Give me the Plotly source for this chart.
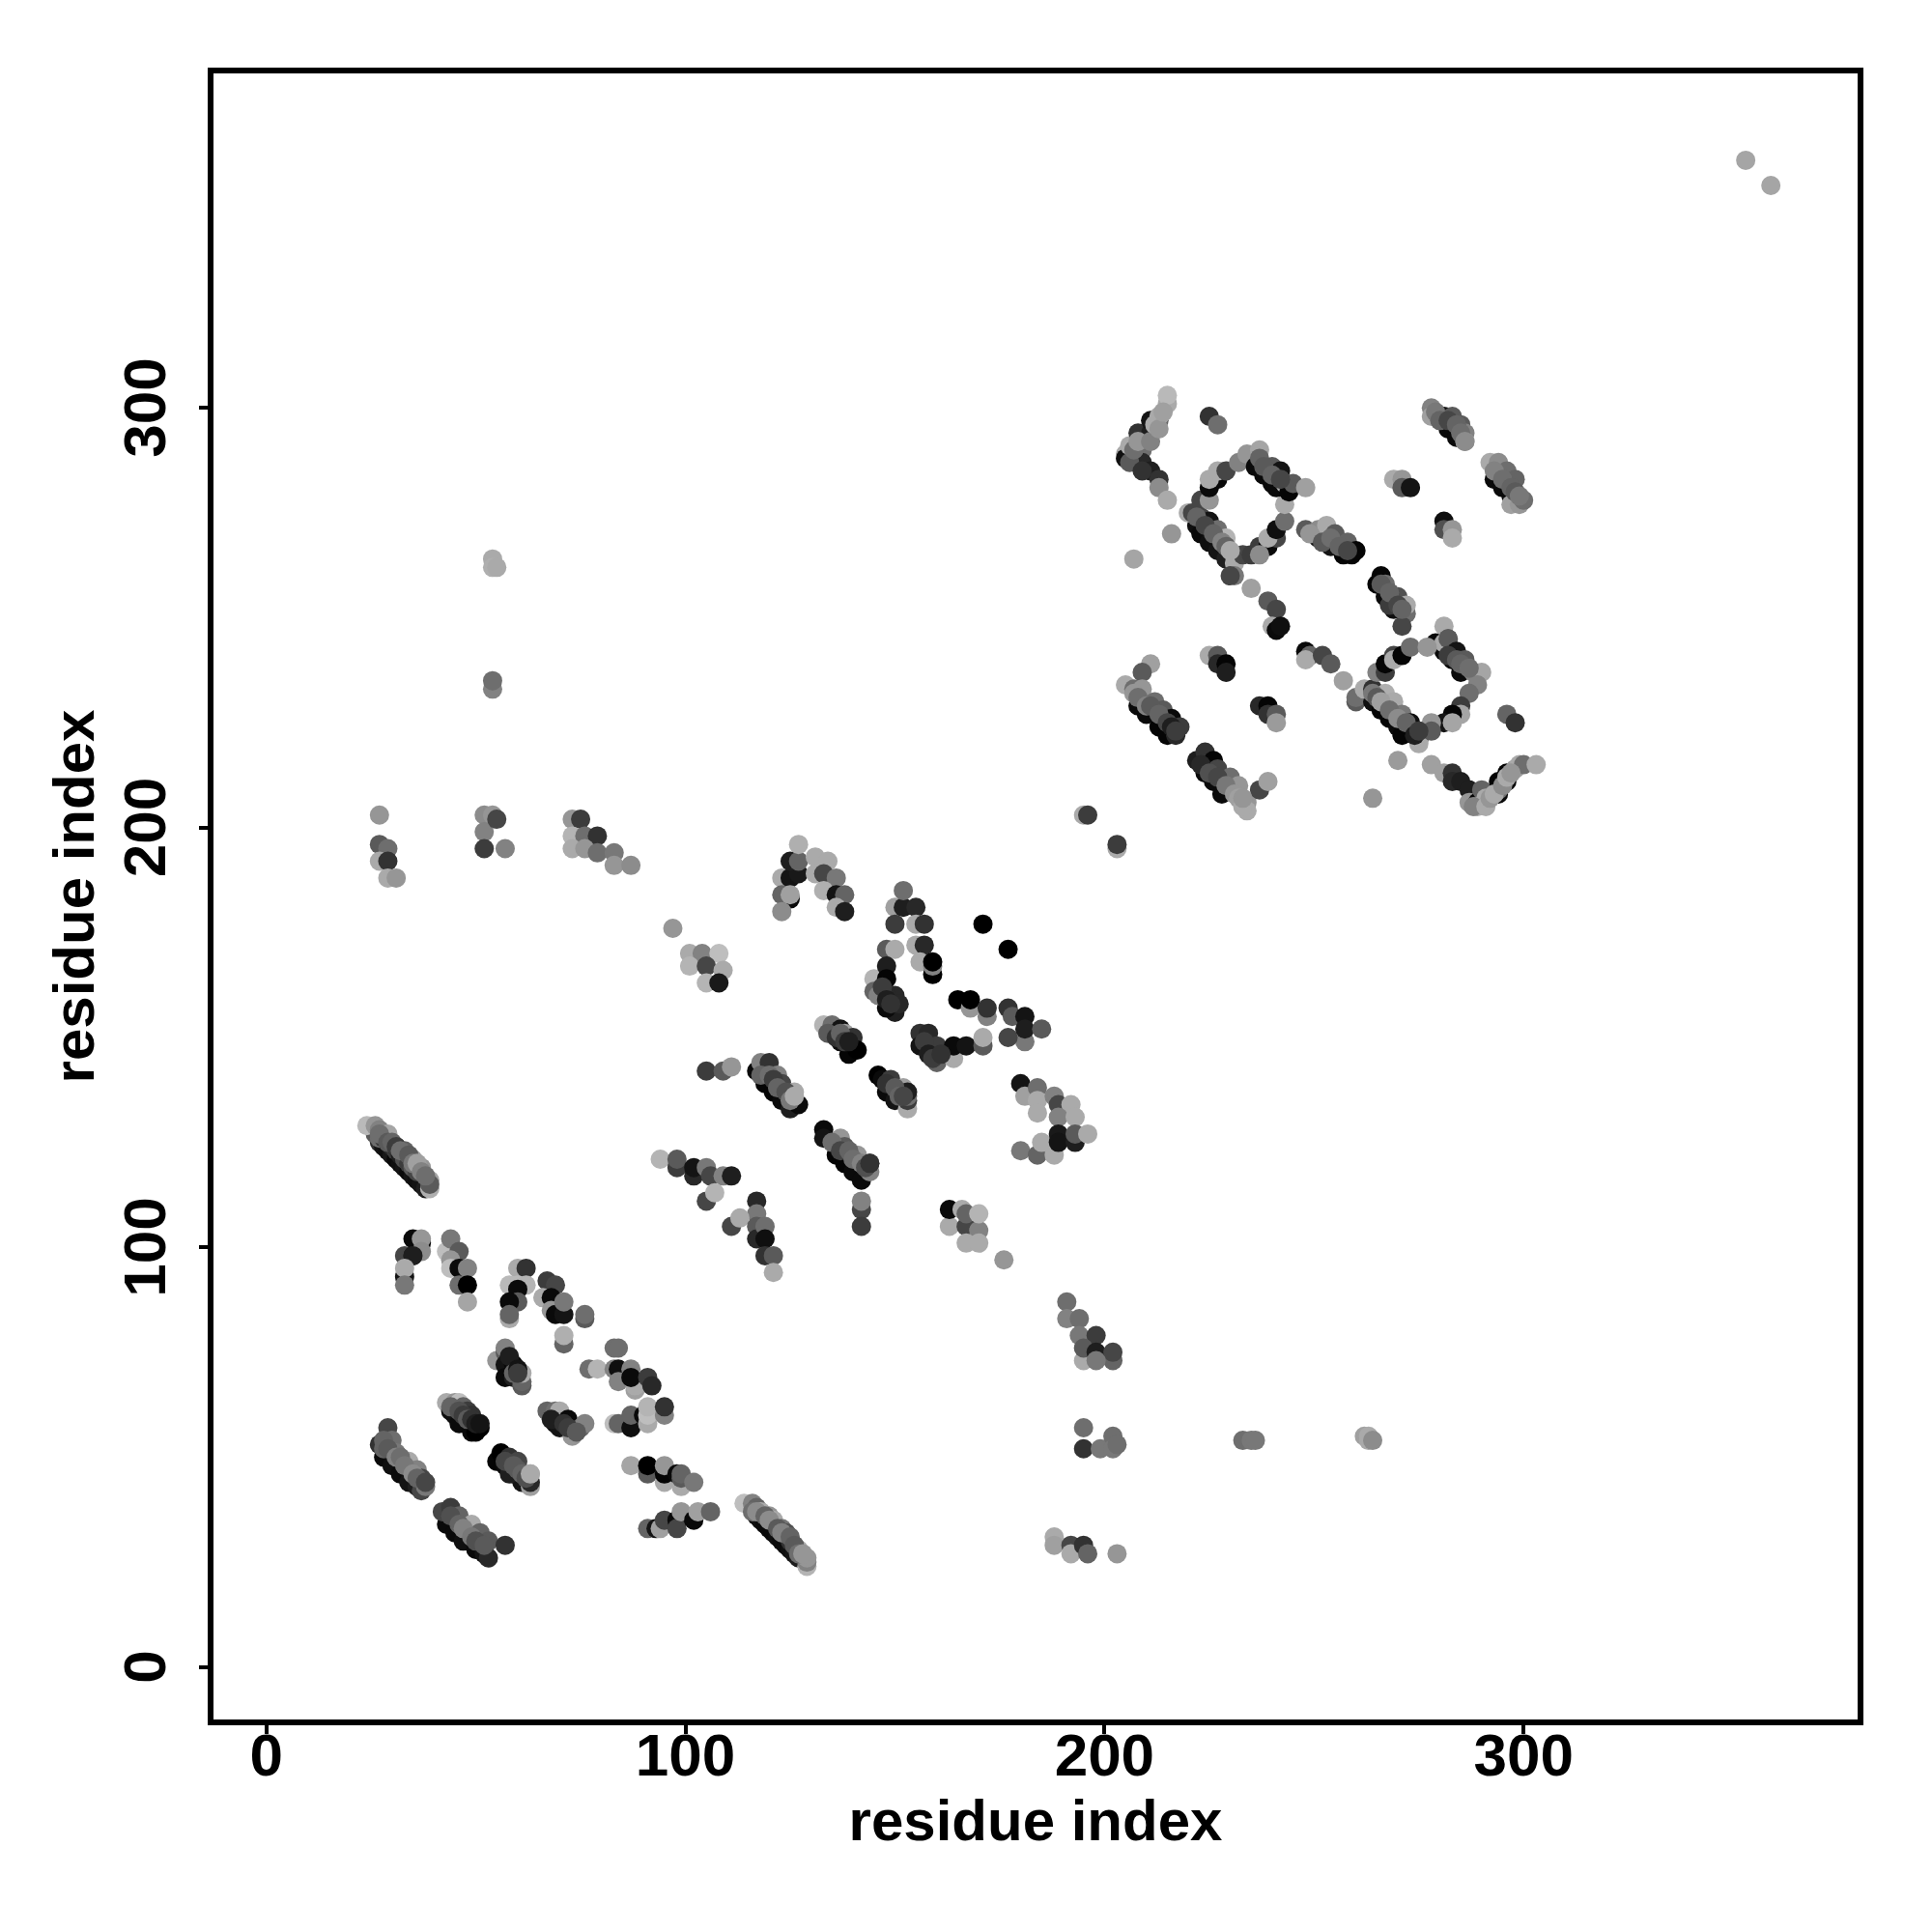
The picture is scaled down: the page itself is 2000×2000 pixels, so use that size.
import plotly.graph_objects as go

tick_values = [0, 100, 200, 300]
axis_label = "residue index"

c01_x = [27,28,29,30,31,32,33,34,35,36,37,38,26,27,28,29,30,31,32,33,34,35,36,24,26,27,29,31,33,35,37,39,39,39]
c01_y = [125,124,123,122,121,120,119,118,117,116,115,114,127,126,126,125,124,123,122,121,120,119,118,129,129,128,127,124,123,121,119,114,116,115]
c01_s = [50,20,15,25,10,15,20,10,20,15,20,30,90,110,60,70,40,60,30,80,60,90,70,185,150,130,165,20,100,160,150,175,165,90]
c02_x = [35,33,35,37,37,37,33,35,33,33]
c02_y = [102,98,98,101,102,99,93,98,95,91]
c02_s = [10,70,30,10,150,140,20,30,170,120]
c03_x = [43,44,46,44,44,46,48,46,48,48]
c03_y = [99,102,99,97,95,95,95,91,91,87]
c03_s = [190,120,90,150,190,10,130,110,0,165]
c04_x = [60,62,58,60,62,60,60,58,58,58]
c04_y = [95,95,91,91,91,90,87,87,83,84]
c04_s = [170,50,185,185,180,10,90,10,170,100]
c05_x = [67,69,66,68,68,69,71,71,76,76,71,71]
c05_y = [92,91,88,88,85,84,84,87,83,84,77,79]
c05_s = [60,70,170,10,150,10,20,120,90,110,100,175]
c06_x = [55,57,57,57,59,59,61,61,61,57]
c06_y = [73,75,72,69,72,69,67,68,70,76]
c06_s = [150,90,20,10,10,30,90,100,170,130]
c07_x = [83,84,77,79,83,84,87,84,88,88,87,91,92]
c07_y = [76,76,71,71,71,71,71,68,66,67,69,69,67]
c07_s = [110,110,110,180,130,15,130,130,160,170,10,60,40]
c08_x = [83,84,87,87,90,91,91,91,95,95]
c08_y = [58,58,57,60,60,58,60,62,60,62]
c08_s = [190,100,15,100,10,170,190,180,130,50]
c09_x = [43,45,46,44,47,45,48,49,46,49,50,51]
c09_y = [63,63,63,61,62,60,61,60,58,56,56,57]
c09_s = [170,150,190,15,100,15,60,50,10,10,0,0]
c10_x = [67,69,70,69,70,72,73,73,75,76]
c10_y = [61,61,61,58,57,59,55,57,57,58]
c10_s = [100,110,170,15,20,10,150,10,100,130]
c11_x = [28,30,32,34,36,29,27,30,28,31,34,37,38,36,37]
c11_y = [50,48,46,44,43,57,53,54,52,51,49,42,43,47,45]
c11_s = [10,15,10,20,30,70,50,110,100,120,170,70,120,130,70]
c12_x = [55,56,57,59,61,58,60,58,60,63,63,63]
c12_y = [49,51,48,46,44,50,49,46,47,43,44,46]
c12_s = [5,0,10,15,20,50,70,30,90,160,40,170]
c13_x = [43,45,47,50,42,44,46,49,51,53,57,52,53]
c13_y = [34,32,30,28,37,38,36,34,32,30,29,27,26]
c13_s = [10,10,15,10,70,60,100,170,100,90,50,20,40]
c14_x = [87,91,91,95,95,95,98,99,99,99,102]
c14_y = [48,46,48,44,46,48,46,43,45,46,44]
c14_s = [165,90,0,170,5,150,10,170,90,100,120]
c15_x = [91,93,94,95,98,98,99,102,103,106]
c15_y = [33,33,33,35,35,33,37,35,37,37]
c15_s = [100,20,160,70,10,70,150,10,160,100]
c16_x = [117,118,119,120,121,122,123,124,125,126,127,114,116,117,118,120,121,123,124,125,127,129,129,129]
c16_y = [36,35,34,33,32,31,30,29,28,27,26,39,39,38,37,36,35,33,32,30,28,24,25,26]
c16_s = [10,15,10,10,10,15,10,10,15,20,30,190,130,100,170,150,170,120,80,50,170,180,130,150]
c17_x = [73,75,73,76,79,73,76,79,83,83,87]
c17_y = [202,202,198,198,198,195,195,194,194,191,191]
c17_s = [150,60,180,110,50,170,150,110,120,150,140]
c18_x = [125,123,125,127,125,127,123,123,125,127]
c18_y = [183,188,188,189,192,192,184,180,184,196]
c18_s = [10,170,20,25,30,100,100,140,160,175]
c19_x = [131,134,131,133,136,133,136,138,136,138]
c19_y = [193,192,189,189,188,185,184,184,181,180]
c19_s = [170,170,170,70,120,175,20,100,170,30]
c20_x = [150,150,152,155,155,157,152]
c20_y = [181,177,181,181,177,177,185]
c20_s = [160,60,30,40,170,50,110]
c21_x = [171,177]
c21_y = [177,171]
c21_s = [0,0]
c22_x = [148,150,155,157,156,159,159,159]
c22_y = [171,171,172,172,168,165,167,168]
c22_s = [90,170,170,40,170,0,130,0]
c23_x = [145,145,148,148,150,148,150,151,148]
c23_y = [164,161,167,164,156,157,160,158,160]
c23_s = [180,100,30,5,30,10,40,40,40]
c24_x = [165,168,168,172,172,177,178,181,181,177,181,185]
c24_y = [159,157,159,155,157,157,155,155,149,150,152,152]
c24_s = [0,150,0,130,50,50,90,20,120,70,30,90]
c25_x = [156,158,156,160,160,160,164,164,167,171,171]
c25_y = [151,151,148,144,146,148,145,148,148,148,150]
c25_s = [50,40,20,100,170,60,170,10,20,90,170]
c26_x = [133,135,137,137,138,139,140,141]
c26_y = [153,153,149,152,151,146,150,147]
c26_s = [180,110,15,20,160,5,50,0]
c27_x = [105,109,111]
c27_y = [142,142,143]
c27_s = [60,90,150]
c28_x = [119,121,123,125,117,118,120,122,123,126,127]
c28_y = [139,137,135,133,142,144,144,141,139,137,134]
c28_s = [5,5,10,30,10,130,50,130,70,170,10]
c29_x = [146,147,148,150,149,152,153,153,153,153]
c29_y = [141,140,137,135,140,138,133,135,136,137]
c29_s = [0,10,10,20,60,160,170,60,110,30]
c30_x = [136,138,140,142,133,133,137,138,141,144,144]
c30_y = [122,120,118,116,128,126,126,124,122,118,120]
c30_s = [5,5,10,10,10,20,150,90,150,130,50]
c31_x = [94,98,98,102,102,105,106,109,111,105,107]
c31_y = [121,119,121,117,119,119,117,117,117,111,113]
c31_s = [180,60,90,40,20,120,70,130,30,70,180]
c32_x = [117,117,111,113,117,117,119,119,119,121,121]
c32_y = [111,108,105,107,105,102,105,102,98,98,94]
c32_s = [40,120,70,170,90,40,110,15,50,90,170]
c33_x = [142,142,142]
c33_y = [109,111,105]
c33_s = [70,130,60]
c34_x = [163,163,166,167,167,170,170,167,170,176]
c34_y = [105,109,109,105,108,104,108,101,101,97]
c34_s = [170,10,170,70,100,130,180,170,170,150]
c35_x = [180,181,184,184,184,188,189,192,189,193]
c35_y = [139,136,138,135,132,136,134,134,131,131]
c35_s = [20,160,110,170,170,130,70,170,130,170]
c36_x = [180,184,185,188,189,189,193,193,196]
c36_y = [123,122,125,122,127,125,125,127,127]
c36_s = [120,100,170,170,25,20,30,90,170]
c37_x = [97,101,104,108,101,105,109,105,108]
c37_y = [176,170,170,170,167,167,166,163,163]
c37_s = [150,170,130,190,180,70,170,180,25]
c38_x = [27,27,29,27,29,29,31]
c38_y = [203,196,195,192,192,188,188]
c38_s = [150,90,110,170,50,170,150]
c39_x = [52,54,52,55,52,57]
c39_y = [203,203,199,202,195,195]
c39_s = [140,150,130,70,60,130]
c40_x = [54,54,55,54,54]
c40_y = [264,262,262,233,235]
c40_s = [170,175,170,130,110]
c41_x = [195,196,203,203]
c41_y = [203,203,195,196]
c41_s = [170,60,170,60]
c42_x = [191,191,194,194,198,195,195,198,202,202,198]
c42_y = [87,83,83,79,79,73,76,75,73,75,73]
c42_s = [110,130,110,120,60,170,90,30,100,70,120]
c43_x = [195,195,199,202,202,203]
c43_y = [57,52,52,55,52,53]
c43_s = [110,50,120,110,120,110]
c44_x = [188,188,192,192,195,196,203]
c44_y = [31,29,29,27,29,27,27]
c44_s = [170,160,70,170,50,100,150]
c45_x = [233,235,236]
c45_y = [54,54,54]
c45_s = [110,120,120]
c46_x = [262,263,263,264]
c46_y = [55,54,55,54]
c46_s = [160,170,170,140]
c47_x = [205,205,206,208,209,209,211,211,211,213,213,213,213,215,215,215]
c47_y = [289,288,291,294,290,287,294,297,285,297,298,283,281,278,301,303]
c47_s = [170,15,170,50,110,40,30,20,30,100,170,50,140,170,170,185]
c48_x = [225,227,216,207]
c48_y = [298,296,270,264]
c48_s = [50,110,150,165]
c49_x = [222,223,225,227,229,220,221,223,225,227,229,231,231,230,233,235]
c49_y = [272,270,268,266,264,275,275,274,273,271,269,263,260,260,265,257]
c49_s = [15,10,15,20,30,170,70,70,20,110,180,170,120,70,70,160]
c50_x = [235,237,239,241,237,239,241,243,243]
c50_y = [265,267,267,269,265,269,271,273,277]
c50_s = [60,60,10,70,140,170,15,110,170]
c51_x = [223,225,225,227,225,227,229,232,234,237]
c51_y = [278,278,281,283,283,285,285,287,289,290]
c51_s = [70,150,10,10,170,170,70,130,150,165]
c52_x = [236,238,240,241,237,240,242,243,244,245,248]
c52_y = [286,284,282,281,288,286,285,282,280,282,281]
c52_s = [10,10,10,10,100,90,20,170,5,90,160]
c53_x = [251,254,257,259,248,251,253,255,258,260]
c53_y = [269,267,265,265,271,271,272,270,268,266]
c53_s = [20,20,5,5,90,140,170,90,100,5]
c54_x = [265,266,267,269,267,268,270,272,272,271]
c54_y = [258,260,258,252,255,253,255,251,253,248]
c54_s = [5,5,110,15,10,60,80,110,170,70]
c55_x = [239,241,240,241,242]
c55_y = [254,252,248,247,248]
c55_s = [90,70,170,10,15]
c56_x = [248,249,248,252,254,257,260,260]
c56_y = [242,241,240,241,239,235,230,231]
c56_s = [10,100,170,70,90,160,90,110]
c57_x = [264,266,268,270,271,262,264,267,269,271,273,275,275,275]
c57_y = [230,228,226,224,222,233,233,232,230,227,225,223,221,220]
c57_s = [15,5,5,10,5,170,50,175,170,120,15,40,50,170]
c58_x = [265,267,267,269,269,271,273]
c58_y = [237,237,239,241,240,241,243]
c58_s = [130,60,5,70,170,5,110]
c59_x = [279,281,283,285,281,282,281,282,284,286,288,290,289,287]
c59_y = [244,242,240,237,248,245,244,245,242,240,237,237,234,232]
c59_s = [10,10,10,10,170,90,170,90,20,90,130,165,130,110]
c60_x = [277,285,285,283,281,283,278,278,296,298]
c60_y = [243,229,227,227,225,225,225,223,227,225]
c60_s = [150,60,165,5,20,165,150,90,100,50]
c61_x = [270,264,278,281,283,283,285,287,287,289,290,291,289]
c61_y = [216,207,215,213,213,211,211,209,206,206,209,207,205]
c61_s = [155,150,160,160,50,40,30,30,150,5,100,170,170]
c62_x = [294,294,294,296,296,298,299,300,303]
c62_y = [208,209,211,211,213,214,215,215,215]
c62_s = [10,110,5,10,5,160,170,110,170]
c63_x = [208,210,213,215,211,209,205,207,209,212,214,216,217,218]
c63_y = [229,227,224,222,239,237,234,233,233,230,228,226,222,224]
c63_s = [10,10,5,5,160,90,170,110,150,110,90,10,40,60]
c64_x = [224,226,228,222,224,226,227,230,232,234,234,237,239]
c64_y = [213,211,208,216,218,216,214,212,210,206,204,209,211]
c64_s = [10,10,10,30,50,5,70,110,150,150,170,70,160]
c65_x = [225,227,227,229,229,237,239,239,241,241]
c65_y = [241,241,239,239,237,229,229,227,227,225]
c65_s = [170,90,40,5,30,40,5,50,90,155]
c66_x = [278,278,281,283,285,282,284,286,286]
c66_y = [300,298,298,298,296,295,293,294,292]
c66_s = [130,160,10,90,90,10,10,130,160]
c67_x = [293,295,297,292,294,296,298,297,299,300]
c67_y = [283,281,279,287,287,285,283,277,277,278]
c67_s = [10,10,10,170,140,110,100,160,150,110]
c68_x = [269,271,271,273,281,281,283,283]
c68_y = [283,283,281,281,273,271,271,269]
c68_s = [170,150,90,20,15,80,150,170]
c69_x = [353,359]
c69_y = [359,353]
c69_s = [165,165]

# upper edges of the thick strands, drawn over the dark lower edges
e01_x = [27,29,30,31,32,34,35,36,37,38]
e01_y = [127,125,125,124,123,122,120,120,118,117]
e01_s = [110,90,100,60,110,90,120,160,130,110]
e02_x = [28,29,31,32,33,35,36,38]
e02_y = [54,52,50,50,48,46,45,44]
e02_s = [100,90,130,110,120,140,100,70]
e03_x = [44,46,47,49,50,52]
e03_y = [36,34,33,31,30,29]
e03_s = [80,100,130,120,80,90]
e04_x = [57,59,61,62,63]
e04_y = [49,48,46,45,46]
e04_s = [70,90,100,80,170]
e05_x = [44,46,47,48,49,50,51]
e05_y = [62,61,60,59,59,58,58]
e05_s = [100,80,60,90,50,30,20]
e06_x = [116,117,119,120,122,123,125,126,127,128]
e06_y = [37,37,36,35,33,32,31,29,27,27]
e06_s = [110,140,100,140,90,130,100,90,110,150]
e07_x = [118,120,121,122,124,125,126]
e07_y = [141,141,140,138,137,135,136]
e07_s = [100,110,60,100,80,120,170]
e08_x = [135,137,139,140,142,143,144]
e08_y = [125,123,123,121,120,119,120]
e08_s = [110,70,100,110,130,80,50]
e09_x = [148,150,151,152]
e09_y = [139,138,136,136]
e09_s = [50,90,100,70]
e10_x = [134,136,137,138,139]
e10_y = [151,150,151,149,149]
e10_s = [90,50,100,60,30]
e11_x = [206,207,208,209,211,212,213,214]
e11_y = [287,290,292,285,292,296,295,299]
e11_s = [90,110,150,50,130,170,150,160]
e12_x = [222,224,226,228,229,230]
e12_y = [274,272,270,268,267,266]
e12_s = [100,70,100,130,100,170]
e13_x = [238,240,242]
e13_y = [286,284,283]
e13_s = [90,100,70]
e14_x = [249,252,254,256,258]
e14_y = [270,268,269,267,266]
e14_s = [150,90,110,100,70]
e15_x = [266,268,270,271]
e15_y = [258,256,253,252]
e15_s = [90,100,70,100]
e16_x = [264,265,266,268,270,272,274,275]
e16_y = [232,231,230,228,226,225,222,223]
e16_s = [120,90,160,110,140,100,30,60]
e17_x = [282,284,285,287]
e17_y = [241,240,239,238]
e17_s = [60,90,100,110]
e18_x = [207,208,210,211,213,215,216,217]
e18_y = [232,231,229,229,227,225,224,223]
e18_s = [150,110,130,90,100,70,30,60]
e19_x = [223,225,227,229,231,232,233,233]
e19_y = [215,213,212,210,208,207,205,207]
e19_s = [40,80,70,120,150,160,170,150]
e20_x = [279,280,282,284,285,286]
e20_y = [299,297,297,296,294,292]
e20_s = [120,100,70,100,110,140]
e21_x = [293,295,297,298,299]
e21_y = [285,283,281,280,279]
e21_s = [130,110,100,90,120]
e22_x = [288,291,292,293,295,296,297]
e22_y = [205,205,207,208,210,212,213]
e22_s = [130,170,150,170,140,170,150]
e23_x = [58,59,60,60]
e23_y = [74,70,71,70]
e23_s = [30,100,20,60]
e24_x = [68,71,72,74]
e24_y = [59,58,57,56]
e24_s = [30,50,60,90]
e25_x = [146,147,148,149]
e25_y = [160,162,159,158]
e25_s = [130,60,30,50]
e26_x = [157,158,159,161]
e26_y = [149,146,145,146]
e26_s = [60,30,60,50]

clusters = [
    (c01_x,c01_y,c01_s),(c02_x,c02_y,c02_s),(c03_x,c03_y,c03_s),(c04_x,c04_y,c04_s),(c05_x,c05_y,c05_s),
    (c06_x,c06_y,c06_s),(c07_x,c07_y,c07_s),(c08_x,c08_y,c08_s),(c09_x,c09_y,c09_s),(c10_x,c10_y,c10_s),
    (c11_x,c11_y,c11_s),(c12_x,c12_y,c12_s),(c13_x,c13_y,c13_s),(c14_x,c14_y,c14_s),(c15_x,c15_y,c15_s),
    (c16_x,c16_y,c16_s),(c17_x,c17_y,c17_s),(c18_x,c18_y,c18_s),(c19_x,c19_y,c19_s),(c20_x,c20_y,c20_s),
    (c21_x,c21_y,c21_s),(c22_x,c22_y,c22_s),(c23_x,c23_y,c23_s),(c24_x,c24_y,c24_s),(c25_x,c25_y,c25_s),
    (c26_x,c26_y,c26_s),(c27_x,c27_y,c27_s),(c28_x,c28_y,c28_s),(c29_x,c29_y,c29_s),(c30_x,c30_y,c30_s),
    (c31_x,c31_y,c31_s),(c32_x,c32_y,c32_s),(c33_x,c33_y,c33_s),(c34_x,c34_y,c34_s),(c35_x,c35_y,c35_s),
    (c36_x,c36_y,c36_s),(c37_x,c37_y,c37_s),(c38_x,c38_y,c38_s),(c39_x,c39_y,c39_s),(c40_x,c40_y,c40_s),
    (c41_x,c41_y,c41_s),(c42_x,c42_y,c42_s),(c43_x,c43_y,c43_s),(c44_x,c44_y,c44_s),(c45_x,c45_y,c45_s),
    (c46_x,c46_y,c46_s),(c47_x,c47_y,c47_s),(c48_x,c48_y,c48_s),(c49_x,c49_y,c49_s),(c50_x,c50_y,c50_s),
    (c51_x,c51_y,c51_s),(c52_x,c52_y,c52_s),(c53_x,c53_y,c53_s),(c54_x,c54_y,c54_s),(c55_x,c55_y,c55_s),
    (c56_x,c56_y,c56_s),(c57_x,c57_y,c57_s),(c58_x,c58_y,c58_s),(c59_x,c59_y,c59_s),(c60_x,c60_y,c60_s),
    (c61_x,c61_y,c61_s),(c62_x,c62_y,c62_s),(c63_x,c63_y,c63_s),(c64_x,c64_y,c64_s),(c65_x,c65_y,c65_s),
    (c66_x,c66_y,c66_s),(c67_x,c67_y,c67_s),(c68_x,c68_y,c68_s),(c69_x,c69_y,c69_s),
    (e01_x,e01_y,e01_s),(e02_x,e02_y,e02_s),(e03_x,e03_y,e03_s),(e04_x,e04_y,e04_s),(e05_x,e05_y,e05_s),
    (e06_x,e06_y,e06_s),(e07_x,e07_y,e07_s),(e08_x,e08_y,e08_s),(e09_x,e09_y,e09_s),(e10_x,e10_y,e10_s),
    (e11_x,e11_y,e11_s),(e12_x,e12_y,e12_s),(e13_x,e13_y,e13_s),(e14_x,e14_y,e14_s),(e15_x,e15_y,e15_s),
    (e16_x,e16_y,e16_s),(e17_x,e17_y,e17_s),(e18_x,e18_y,e18_s),(e19_x,e19_y,e19_s),(e20_x,e20_y,e20_s),
    (e21_x,e21_y,e21_s),(e22_x,e22_y,e22_s),(e23_x,e23_y,e23_s),(e24_x,e24_y,e24_s),(e25_x,e25_y,e25_s),
    (e26_x,e26_y,e26_s),
]

xs, ys, colors = [], [], []
for cx, cy, cs in clusters:
    for a, b, s in zip(cx, cy, cs, strict=True):
        xs.append(a)
        ys.append(b)
        colors.append(f"rgb({s},{s},{s})")

FONT = "Liberation Sans"
fig = go.Figure(go.Scatter(
    x=xs, y=ys, mode="markers",
    marker=dict(size=20, color=colors, line=dict(width=0)),
    cliponaxis=True, showlegend=False,
))

axis_common = dict(
    tickmode="array", tickvals=tick_values, ticktext=[str(v) for v in tick_values],
    ticks="outside", ticklen=9, tickwidth=4, tickcolor="black",
    showgrid=False, zeroline=False, showline=True, linecolor="black", linewidth=6,
    mirror=True, tickfont=dict(family=FONT, size=62, color="black", weight=700),
    automargin=False,
)
fig.update_xaxes(range=[-12.6, 379.7], ticklabelstandoff=-31, **axis_common)
fig.update_yaxes(range=[-12.5, 379.7], tickangle=-90, ticklabelstandoff=10, ticklabelshift=9, **axis_common)
fig.update_xaxes(title=dict(text=axis_label, font=dict(family=FONT, size=60, color="black", weight=700), standoff=15))
fig.update_yaxes(title=dict(text=axis_label, font=dict(family=FONT, size=60, color="black", weight=700), standoff=0))
fig.update_layout(
    width=2000, height=2000, template=None,
    margin=dict(l=213, r=85, t=68, b=228, autoexpand=False),
    paper_bgcolor="white", plot_bgcolor="white",
)
fig.write_html("out.html")
